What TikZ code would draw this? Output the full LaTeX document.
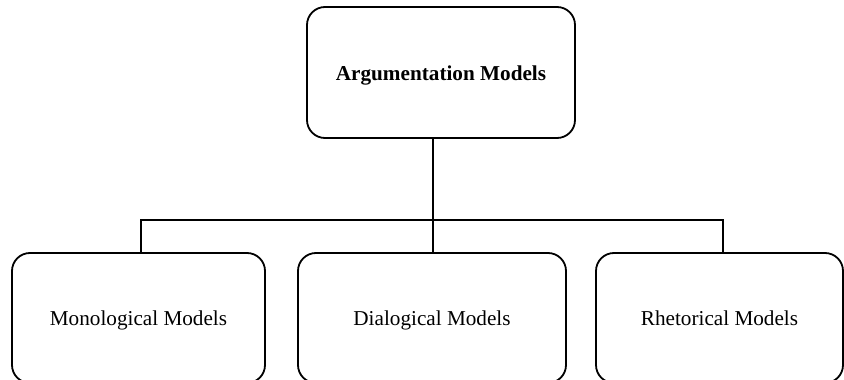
\documentclass[tikz,border=0pt]{standalone}
\usepackage{fontspec}
\setmainfont{Liberation Serif}
\begin{document}
\begin{tikzpicture}[x=1pt,y=-1pt,
  modelbox/.style={draw=black,line width=1.8pt,rounded corners=18pt,rectangle,inner sep=0pt,align=center,text height=15pt,text depth=0pt,font=\fontsize{21.2}{25}\selectfont},
  link/.style={draw=black,line width=1.8pt}]
\useasboundingbox (0,0) rectangle (844,380);
\clip (0,0) rectangle (844,380);
\node[modelbox,minimum width=268pt,minimum height=131pt,font=\fontsize{21.2}{25}\selectfont\bfseries] (top) at (441,72.5) {Argumentation Models};
\node[modelbox,minimum width=253pt,minimum height=130pt] (left) at (138.5,318) {Monological Models};
\node[modelbox,minimum width=268pt,minimum height=130pt] (mid) at (432,318) {Dialogical Models};
\node[modelbox,minimum width=247pt,minimum height=130pt] (right) at (719.5,318) {Rhetorical Models};
\coordinate (bus) at (433,220);
\coordinate (lj) at (141,253);
\coordinate (rj) at (723,253);
\draw[link] (top.south -| bus) -- (bus |- mid.north);
\draw[link] (lj) |- (bus) -| (rj);
\end{tikzpicture}
\end{document}
